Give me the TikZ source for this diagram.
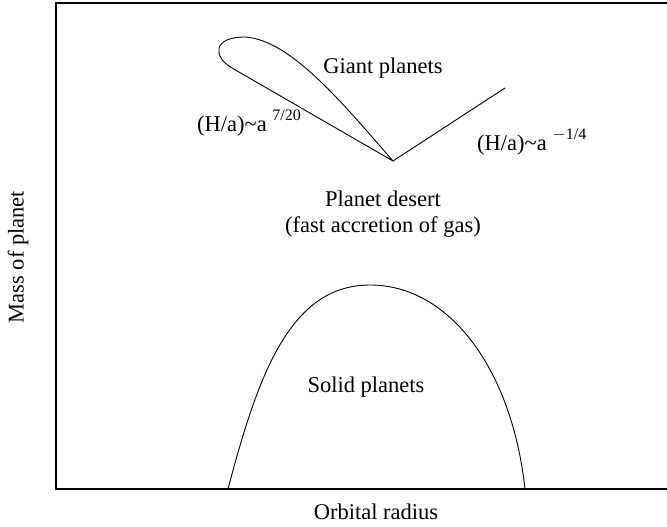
\documentclass[tikz,border=0pt]{standalone}
\usepackage{fontspec}
\setmainfont{Liberation Serif}
\tikzset{
  lbl/.style={inner sep=0pt, font=\fontsize{22.5}{26}\selectfont},
  curve/.style={line width=0.9pt, line join=miter},
  frame/.style={line width=1.3pt}
}
\newcommand{\supx}[1]{\hspace{0.25em}\raisebox{10.5pt}{\fontsize{16}{18}\selectfont #1}}
\begin{document}
\begin{tikzpicture}[x=1pt,y=-1pt]
\useasboundingbox (0,0) rectangle (667,527);
% frame
\draw[frame] (667,3) -- (56,3) -- (56,489) -- (667,489);
% axis labels
\node[lbl, rotate=90] (ylab) at (18,257) {Mass of planet};
\node[lbl] (xlab) at (376,512) {Orbital radius};
% giant planets region
\coordinate (v) at (393,161);
\coordinate (r) at (505,88);
\coordinate (l) at (232,68);
\draw[curve] (r) -- (v) -- (l) .. controls (213,57) and (212,37) .. (245,37)
  .. controls (290,40) and (340,100) .. (v);
\node[lbl] (giant) at (383,68) {Giant planets};
\node[lbl, anchor=base west] (hl) at (197,131) {(H/a)\textasciitilde a\supx{7/20}};
\node[lbl, anchor=base west] (hr) at (477,150) {(H/a)\textasciitilde a\supx{$-$1/4}};
% desert
\node[lbl, align=center] (desert) at (383,214) {Planet desert\\(fast accretion of gas)};
% solid planets dome
\draw[curve] (228,489) .. controls (258,375) and (290,285) .. (370,285)
  .. controls (450,285) and (512,370) .. (525,489);
\node[lbl] (solid) at (366,387) {Solid planets};
\end{tikzpicture}
\end{document}
